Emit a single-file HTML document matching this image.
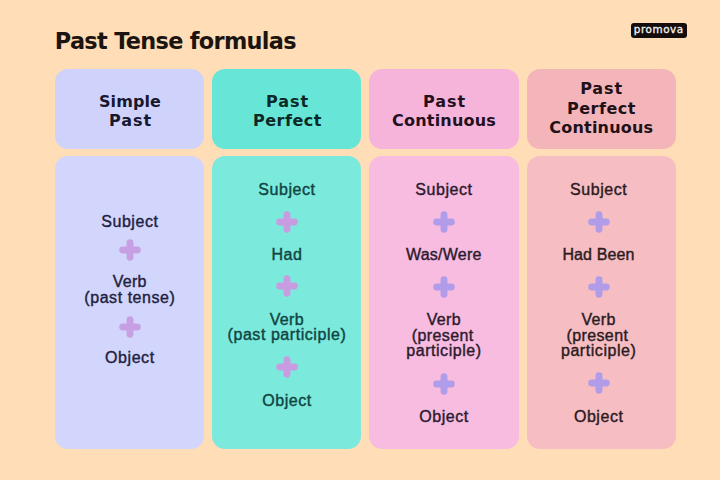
<!DOCTYPE html>
<html lang="en"><head><meta charset="utf-8"><title>Past Tense formulas</title>
<style>
html,body{margin:0;padding:0}
body{width:720px;height:480px;overflow:hidden;background:#ffddb6;position:relative;font-family:"Liberation Sans",sans-serif}
.box{position:absolute;border-radius:13px}
.title{position:absolute;left:54.8px;top:25.9px;font:bold 22.4px/30px "DejaVu Sans","Liberation Sans",sans-serif;color:#1c1410;letter-spacing:-0.68px;white-space:nowrap}
.logo{position:absolute;left:630.5px;top:23px;width:56px;height:14.6px;border-radius:3px;background:#140d0c}
.logo span{position:absolute;left:0;top:0;width:56px;height:14.6px;line-height:13px;text-align:center;color:#f4f4f4;font:10.4px/13.2px "DejaVu Sans","Liberation Sans",sans-serif;letter-spacing:0.55px;text-indent:0.5px;-webkit-text-stroke:0.3px #f4f4f4}
.h{position:absolute;width:200px;text-align:center;font:bold 16px/20px "DejaVu Sans","Liberation Sans",sans-serif;color:#1c1218;white-space:nowrap;height:20px}
.t{position:absolute;width:200px;text-align:center;font:16px/20px "Liberation Sans",sans-serif;white-space:nowrap;height:20px;letter-spacing:0.55px;text-indent:0.55px;-webkit-text-stroke:0.4px currentColor}
.p{position:absolute;width:22px;height:22px}
</style></head><body>
<div class="title">Past Tense formulas</div>
<div class="logo"><span>promova</span></div>

<div class="box" style="left:54.7px;top:68.5px;width:149.3px;height:80.3px;background:#cfd3fb"></div>
<div class="box" style="left:54.7px;top:156.3px;width:149.3px;height:293px;background:#d2d6fc"></div>
<div class="h" style="left:30.05px;top:91.90px;letter-spacing:0.1px;color:#17182f">Simple</div>
<div class="h" style="left:30.48px;top:111.20px;letter-spacing:0.95px;color:#17182f">Past</div>
<div class="t" style="left:29.60px;top:212.00px;color:#1f2140">Subject</div>
<svg class="p" style="left:119.40px;top:239.40px" viewBox="0 0 22 22"><path d="M11 3.65V18.35M3.65 11H18.35" stroke="#c7a0e3" stroke-width="6.9" stroke-linecap="round" fill="none"/></svg>
<div class="t" style="left:29.60px;top:272.00px;color:#1f2140;letter-spacing:0.3px;text-indent:0.3px">Verb</div>
<div class="t" style="left:29.60px;top:288.00px;color:#1f2140">(past tense)</div>
<svg class="p" style="left:119.40px;top:315.90px" viewBox="0 0 22 22"><path d="M11 3.65V18.35M3.65 11H18.35" stroke="#c7a0e3" stroke-width="6.9" stroke-linecap="round" fill="none"/></svg>
<div class="t" style="left:29.60px;top:348.00px;color:#1f2140">Object</div>
<div class="box" style="left:212.0px;top:68.5px;width:149.3px;height:80.3px;background:#67e5d6"></div>
<div class="box" style="left:212.0px;top:156.3px;width:149.3px;height:293px;background:#7be9db"></div>
<div class="h" style="left:187.67px;top:91.90px;letter-spacing:0.95px;color:#0c2926">Past</div>
<div class="h" style="left:187.45px;top:111.20px;letter-spacing:0.5px;color:#0c2926">Perfect</div>
<div class="t" style="left:186.70px;top:180.00px;color:#0f4541">Subject</div>
<svg class="p" style="left:276.00px;top:210.80px" viewBox="0 0 22 22"><path d="M11 3.65V18.35M3.65 11H18.35" stroke="#c99ce2" stroke-width="6.9" stroke-linecap="round" fill="none"/></svg>
<div class="t" style="left:186.70px;top:245.00px;color:#0f4541">Had</div>
<svg class="p" style="left:276.00px;top:275.10px" viewBox="0 0 22 22"><path d="M11 3.65V18.35M3.65 11H18.35" stroke="#c99ce2" stroke-width="6.9" stroke-linecap="round" fill="none"/></svg>
<div class="t" style="left:186.70px;top:310.00px;color:#0f4541;letter-spacing:0.3px;text-indent:0.3px">Verb</div>
<div class="t" style="left:186.70px;top:325.00px;color:#0f4541">(past participle)</div>
<svg class="p" style="left:276.00px;top:356.40px" viewBox="0 0 22 22"><path d="M11 3.65V18.35M3.65 11H18.35" stroke="#c99ce2" stroke-width="6.9" stroke-linecap="round" fill="none"/></svg>
<div class="t" style="left:186.70px;top:391.00px;color:#0f4541">Object</div>
<div class="box" style="left:369.3px;top:68.5px;width:149.3px;height:80.3px;background:#f7b4db"></div>
<div class="box" style="left:369.3px;top:156.3px;width:149.3px;height:293px;background:#f7bce0"></div>
<div class="h" style="left:344.48px;top:91.90px;letter-spacing:0.95px;color:#22101e">Past</div>
<div class="h" style="left:344.10px;top:111.20px;letter-spacing:0.2px;color:#22101e">Continuous</div>
<div class="t" style="left:343.70px;top:180.00px;color:#2c1a2e">Subject</div>
<svg class="p" style="left:433.00px;top:210.50px" viewBox="0 0 22 22"><path d="M11 3.65V18.35M3.65 11H18.35" stroke="#b09ce8" stroke-width="6.9" stroke-linecap="round" fill="none"/></svg>
<div class="t" style="left:343.70px;top:245.00px;color:#2c1a2e;letter-spacing:0.25px;text-indent:0.25px">Was/Were</div>
<svg class="p" style="left:433.00px;top:275.50px" viewBox="0 0 22 22"><path d="M11 3.65V18.35M3.65 11H18.35" stroke="#b09ce8" stroke-width="6.9" stroke-linecap="round" fill="none"/></svg>
<div class="t" style="left:343.70px;top:310.00px;color:#2c1a2e;letter-spacing:0.3px;text-indent:0.3px">Verb</div>
<div class="t" style="left:342.50px;top:326.00px;color:#2c1a2e;letter-spacing:0.4px;text-indent:0.4px">(present</div>
<div class="t" style="left:343.70px;top:341.00px;color:#2c1a2e">participle)</div>
<svg class="p" style="left:433.00px;top:372.50px" viewBox="0 0 22 22"><path d="M11 3.65V18.35M3.65 11H18.35" stroke="#b09ce8" stroke-width="6.9" stroke-linecap="round" fill="none"/></svg>
<div class="t" style="left:343.70px;top:407.00px;color:#2c1a2e">Object</div>
<div class="box" style="left:526.6px;top:68.5px;width:149.3px;height:80.3px;background:#f3b5ba"></div>
<div class="box" style="left:526.6px;top:156.3px;width:149.3px;height:293px;background:#f6bec3"></div>
<div class="h" style="left:501.68px;top:79.30px;letter-spacing:0.95px;color:#211117">Past</div>
<div class="h" style="left:501.45px;top:98.60px;letter-spacing:0.5px;color:#211117">Perfect</div>
<div class="h" style="left:501.30px;top:118.10px;letter-spacing:0.2px;color:#211117">Continuous</div>
<div class="t" style="left:498.40px;top:180.00px;color:#2c1a22">Subject</div>
<svg class="p" style="left:587.70px;top:210.50px" viewBox="0 0 22 22"><path d="M11 3.65V18.35M3.65 11H18.35" stroke="#b09ce8" stroke-width="6.9" stroke-linecap="round" fill="none"/></svg>
<div class="t" style="left:498.40px;top:245.00px;color:#2c1a22;letter-spacing:0.1px;text-indent:0.1px">Had Been</div>
<svg class="p" style="left:587.70px;top:275.50px" viewBox="0 0 22 22"><path d="M11 3.65V18.35M3.65 11H18.35" stroke="#b09ce8" stroke-width="6.9" stroke-linecap="round" fill="none"/></svg>
<div class="t" style="left:498.40px;top:310.00px;color:#2c1a22;letter-spacing:0.3px;text-indent:0.3px">Verb</div>
<div class="t" style="left:497.20px;top:326.00px;color:#2c1a22;letter-spacing:0.4px;text-indent:0.4px">(present</div>
<div class="t" style="left:498.40px;top:341.00px;color:#2c1a22">participle)</div>
<svg class="p" style="left:587.70px;top:372.40px" viewBox="0 0 22 22"><path d="M11 3.65V18.35M3.65 11H18.35" stroke="#b09ce8" stroke-width="6.9" stroke-linecap="round" fill="none"/></svg>
<div class="t" style="left:498.40px;top:407.00px;color:#2c1a22">Object</div>
</body></html>
